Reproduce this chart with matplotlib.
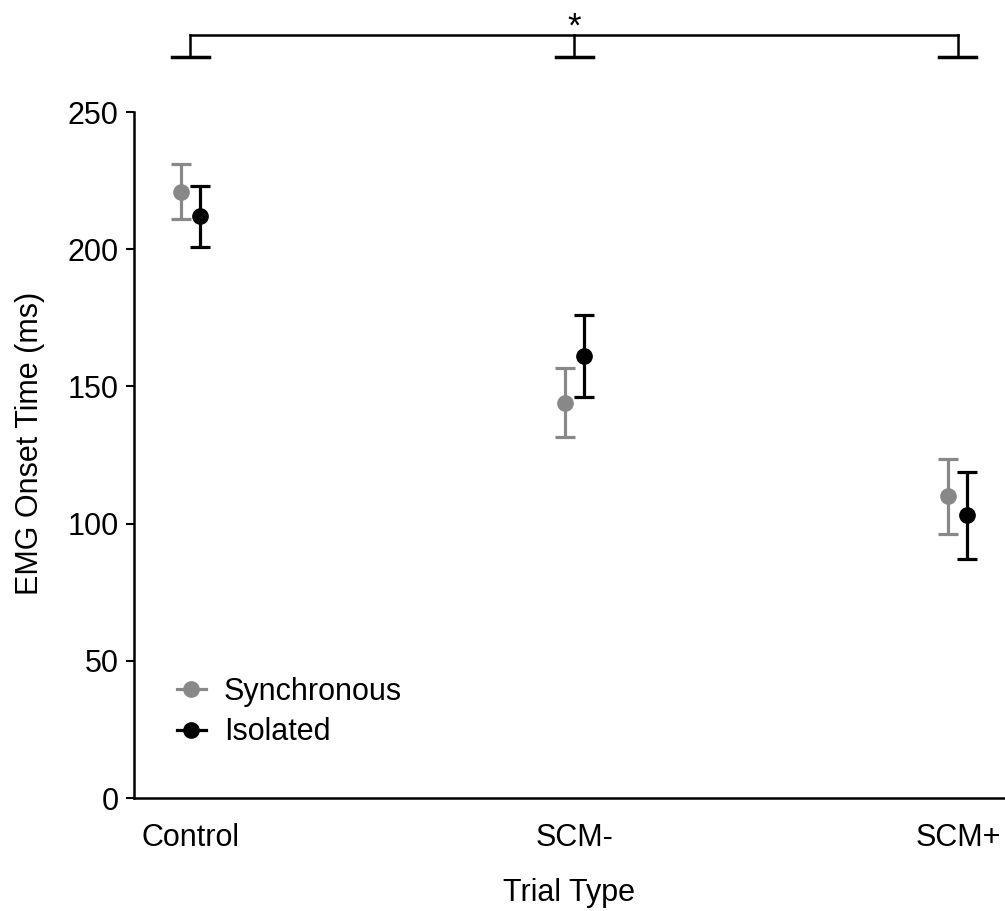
import matplotlib
matplotlib.use("Agg")
import matplotlib.pyplot as plt
from matplotlib.lines import Line2D
import numpy as np

plt.rcParams["font.family"] = ["Liberation Sans", "DejaVu Sans"]

# data
trial_types = ["Control", "SCM-", "SCM+"]
sync_mean = [221, 144, 110]
sync_err = [10, 12.6, 13.7]
iso_mean = [212, 161, 103]
iso_err = [11, 15, 16]

GRAY = "#888888"
FS = 22
offset = 0.025
x = np.arange(len(trial_types))

fig = plt.figure(figsize=(10.05, 9.11), dpi=100)
ax = fig.add_axes([0.1333, 0.124, 0.866, 0.753])

ax.errorbar(x - offset, sync_mean, yerr=sync_err, fmt="o", color=GRAY,
            ms=11, elinewidth=2.3, capsize=7, capthick=2.3)
ax.errorbar(x + offset, iso_mean, yerr=iso_err, fmt="o", color="black",
            ms=11, elinewidth=2.3, capsize=7, capthick=2.3)

ax.set_xlim(-0.147, 2.121)
ax.set_ylim(0, 250)
ax.set_yticks([0, 50, 100, 150, 200, 250])
ax.set_xticks(x)
ax.set_xticklabels(trial_types)
ax.tick_params(axis="y", labelsize=FS, length=6, width=1.5, pad=5)
ax.tick_params(axis="x", labelsize=FS, length=0, pad=18)
ax.set_xlabel("Trial Type", fontsize=FS)
ax.set_ylabel("EMG Onset Time (ms)", fontsize=FS)
ax.xaxis.set_label_coords(0.5, -0.138)
ax.yaxis.set_label_coords(-0.12, 0.517)
ax.xaxis.label.set_va("center")
ax.yaxis.label.set_va("center")

for s in ["top", "right"]:
    ax.spines[s].set_visible(False)
for s in ["left", "bottom"]:
    ax.spines[s].set_linewidth(1.8)

# significance bracket above the plot
ax.plot([x[0], x[-1]], [278, 278], color="black", lw=1.8, clip_on=False)
for xi in x:
    ax.plot([xi, xi], [270, 278], color="black", lw=1.8, clip_on=False)
    ax.plot([xi - 0.048, xi + 0.048], [270, 270], color="black", lw=2.5, clip_on=False)
ax.text(x[1], 281, "*", ha="center", va="center", fontsize=25)

handles = [
    Line2D([], [], color=GRAY, marker="o", ms=11, lw=2.3),
    Line2D([], [], color="black", marker="o", ms=11, lw=2.3),
]
ax.legend(handles, ["Synchronous", "Isolated"], loc="lower left",
          bbox_to_anchor=(0.035, 0.056), frameon=False, fontsize=FS,
          handlelength=0.95, handletextpad=0.6, labelspacing=0.35,
          borderaxespad=0)

fig.savefig("out.png", dpi=100)
